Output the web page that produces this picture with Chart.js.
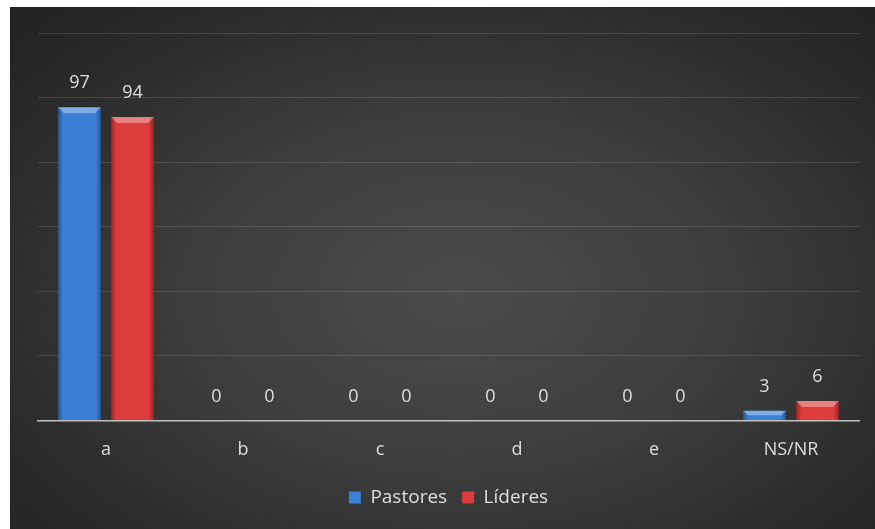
<!DOCTYPE html>
<html>
<head>
<meta charset="utf-8">
<script src="https://cdn.jsdelivr.net/npm/chart.js@4"></script>
<style>
    html, body { margin: 0; padding: 0; background: #ffffff; }
    #wrap {
        position: absolute;
        left: 10px;
        top: 7px;
        width: 865px;
        height: 522px;
        background: radial-gradient(ellipse 70% 75% at 52% 55%, #4b4b4b 0%, #3d3d3d 45%, #2b2b2b 80%, #232323 100%);
    }
</style>
</head>
<body>
<div id="wrap"><canvas id="chart" width="865" height="522"></canvas></div>
<script>
const categories = ['a', 'b', 'c', 'd', 'e', 'NS/NR'];
const pastores = [97, 0, 0, 0, 0, 3];
const lideres = [94, 0, 0, 0, 0, 6];
const yTicks = [0, 20, 40, 60, 80, 100, 120];

const textColor = '#dedede';
const fontFamily = '"Open Sans", "Noto Sans", sans-serif';

// bevelled look for each bar: darker sides and a light top edge
const barBevel = {
    id: 'barBevel',
    afterDatasetsDraw(chart) {
        const ctx = chart.ctx;
        chart.data.datasets.forEach(function(ds, i) {
            chart.getDatasetMeta(i).data.forEach(function(bar) {
                let h = bar.base - bar.y;
                if (h <= 0) return;
                let left = bar.x - bar.width / 2;
                let right = bar.x + bar.width / 2;
                ctx.save();
                let g = ctx.createLinearGradient(left, 0, right, 0);
                g.addColorStop(0, 'rgba(0,0,0,0.35)');
                g.addColorStop(0.12, 'rgba(0,0,0,0)');
                g.addColorStop(0.88, 'rgba(0,0,0,0)');
                g.addColorStop(1, 'rgba(0,0,0,0.35)');
                ctx.fillStyle = g;
                ctx.fillRect(left, bar.y, bar.width, h);
                let bev = Math.min(6, h / 2);
                ctx.fillStyle = 'rgba(255,255,255,0.35)';
                ctx.beginPath();
                ctx.moveTo(left, bar.y);
                ctx.lineTo(right, bar.y);
                ctx.lineTo(right - bev, bar.y + bev);
                ctx.lineTo(left + bev, bar.y + bev);
                ctx.closePath();
                ctx.fill();
                ctx.restore();
            });
        });
    }
};

// value written above every bar
const valueLabels = {
    id: 'valueLabels',
    afterDatasetsDraw(chart) {
        const ctx = chart.ctx;
        ctx.save();
        ctx.fillStyle = textColor;
        ctx.font = '18px ' + fontFamily;
        ctx.textAlign = 'center';
        ctx.textBaseline = 'middle';
        chart.data.datasets.forEach(function(ds, i) {
            chart.getDatasetMeta(i).data.forEach(function(bar, j) {
                ctx.fillText(ds.data[j], bar.x, bar.y - 24);
            });
        });
        ctx.restore();
    }
};

new Chart(document.getElementById('chart'), {
    type: 'bar',
    data: {
        labels: categories,
        datasets: [
            { label: 'Pastores', data: pastores, backgroundColor: '#3b80d6' },
            { label: 'Líderes', data: lideres, backgroundColor: '#dc3c3c' }
        ]
    },
    options: {
        responsive: false,
        animation: false,
        categoryPercentage: 0.774,
        barPercentage: 0.81,
        layout: { padding: { left: 27.5, right: 15.5, top: 26, bottom: 12 } },
        scales: {
            x: {
                afterFit(scale) { scale.height += 1; },
                grid: { display: false },
                border: { color: '#bfbfbf', width: 1.5 },
                ticks: { color: textColor, font: { size: 18, family: fontFamily }, padding: 11 }
            },
            y: {
                min: 0,
                max: 120,
                afterFit(scale) { scale.width = 0; },
                afterBuildTicks(scale) { scale.ticks = yTicks.map(v => ({ value: v })); },
                ticks: { display: false },
                border: { display: false },
                grid: { color: 'rgba(255,255,255,0.13)', drawTicks: false }
            }
        },
        plugins: {
            legend: {
                position: 'bottom',
                labels: {
                    color: textColor,
                    font: { size: 19, family: fontFamily },
                    usePointStyle: true,
                    pointStyle: 'rect',
                    boxWidth: 12,
                    boxHeight: 12,
                    padding: 15
                }
            },
            tooltip: { enabled: false }
        }
    },
    plugins: [barBevel, valueLabels]
});
</script>
</body>
</html>
